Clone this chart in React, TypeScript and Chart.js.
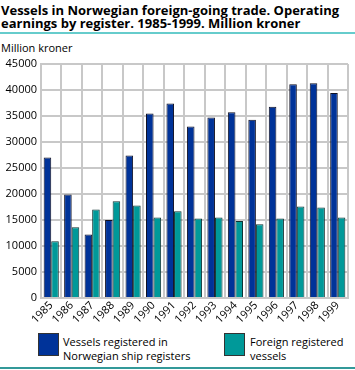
import React, { useEffect, useRef } from "react";
import { Chart, registerables } from "chart.js";

Chart.register(...registerables);

const years = ["1985", "1986", "1987", "1988", "1989", "1990", "1991", "1992", "1993", "1994", "1995", "1996", "1997", "1998", "1999"];
const norwegianRegisters = [27000, 19900, 12200, 15000, 27400, 35500, 37400, 33000, 34700, 35700, 34300, 36800, 41100, 41300, 39400];
const foreignRegistered = [10900, 13600, 17000, 18600, 17800, 15500, 16700, 15300, 15500, 14800, 14200, 15300, 17600, 17400, 15500];
const yMin = 0;
const yMax = 45000;
const yStep = 5000;

const titleLines = ["Vessels in Norwegian foreign-going trade. Operating", "earnings by register. 1985-1999. Million kroner"];
const unitLabel = "Million kroner";
const seriesNames = [["Vessels registered in", "Norwegian ship registers"], ["Foreign registered", "vessels"]];

const BLUE = "#003399";
const TEAL = "#009999";
const GRID = "#c8c8c8";
const FONT = '"Open Sans", sans-serif';

export default function App() {
  const canvasRef = useRef<HTMLCanvasElement | null>(null);

  useEffect(() => {
    const canvas = canvasRef.current;
    if (!canvas) return;
    const chart = new Chart(canvas, {
      type: "bar",
      data: {
        labels: years,
        datasets: [
          {
            label: seriesNames[0].join(" "),
            data: norwegianRegisters,
            backgroundColor: BLUE,
            borderColor: "#111122",
            borderWidth: 1,
            borderSkipped: "bottom",
            barPercentage: 1,
            categoryPercentage: 0.74,
          },
          {
            label: seriesNames[1].join(" "),
            data: foreignRegistered,
            backgroundColor: TEAL,
            borderColor: "#113333",
            borderWidth: 1,
            borderSkipped: "bottom",
            barPercentage: 1,
            categoryPercentage: 0.74,
          },
        ],
      },
      options: {
        animation: false,
        responsive: false,
        maintainAspectRatio: false,
        layout: { padding: { top: 24, right: 7, left: 0, bottom: 0 } },
        plugins: {
          legend: { display: false },
          title: { display: false },
          tooltip: { enabled: false },
        },
        scales: {
          x: {
            offset: true,
            grid: { color: GRID, lineWidth: 2, offset: true, drawTicks: false },
            border: { display: true, color: GRID, width: 2 },
            ticks: {
              color: "#000",
              font: { family: FONT, size: 11 },
              maxRotation: 45,
              minRotation: 45,
              autoSkip: false,
              padding: 1,
            },
            afterFit: (scale: any) => {
              scale.height = 34;
            },
          },
          y: {
            min: yMin,
            max: yMax,
            grid: { color: GRID, lineWidth: 2, drawTicks: false },
            border: { display: true, color: GRID, width: 2 },
            ticks: {
              stepSize: yStep,
              color: "#000",
              font: { family: FONT, size: 11 },
              padding: 4,
              callback: (v: any) => String(v),
            },
            afterFit: (scale: any) => {
              scale.width = 41;
            },
          },
        },
      },
    });
    return () => chart.destroy();
  }, []);

  return (
    <div style={{ position: "absolute", left: 0, top: 0, width: 355, height: 370, fontFamily: FONT, color: "#000", overflow: "hidden" }}>
      <div style={{ position: "absolute", left: 1, top: 4, fontSize: 13, fontWeight: 700, lineHeight: "13px", whiteSpace: "nowrap" }}>
        {titleLines.map((l, i) => (
          <div key={i}>{l}</div>
        ))}
      </div>
      <div style={{ position: "absolute", left: 0, top: 32, width: 355, height: 2, background: "#66cccc" }} />
      <div style={{ position: "absolute", left: 1, top: 40, fontSize: 11, whiteSpace: "nowrap" }}>{unitLabel}</div>
      <canvas ref={canvasRef} width={355} height={292} style={{ position: "absolute", left: 0, top: 40, width: 355, height: 292 }} />
      <div style={{ position: "absolute", left: 38, top: 333, width: 19, height: 21, background: BLUE, border: "1px solid #333" }} />
      <div style={{ position: "absolute", left: 63, top: 335, fontSize: 11, lineHeight: "14px", whiteSpace: "nowrap" }}>
        {seriesNames[0].map((l, i) => (
          <div key={i}>{l}</div>
        ))}
      </div>
      <div style={{ position: "absolute", left: 224, top: 333, width: 19, height: 21, background: TEAL, border: "1px solid #333" }} />
      <div style={{ position: "absolute", left: 250, top: 335, fontSize: 11, lineHeight: "14px", whiteSpace: "nowrap" }}>
        {seriesNames[1].map((l, i) => (
          <div key={i}>{l}</div>
        ))}
      </div>
      <div style={{ position: "absolute", left: 0, top: 367, width: 355, height: 2, background: "#339999" }} />
    </div>
  );
}
